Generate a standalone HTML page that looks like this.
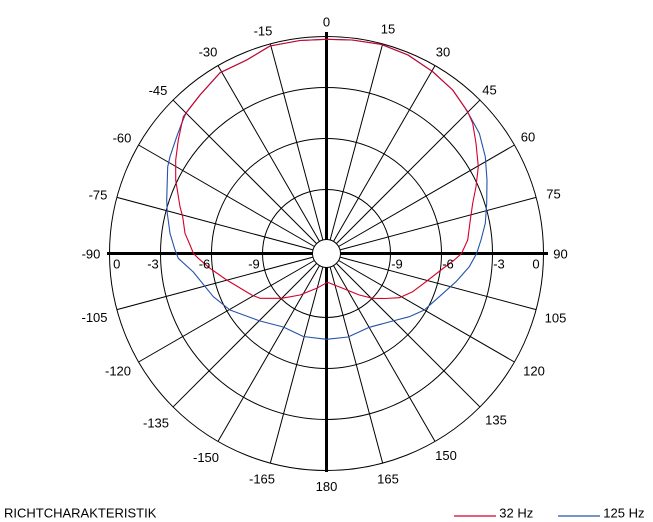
<!DOCTYPE html>
<html><head><meta charset="utf-8"><style>
html,body{margin:0;padding:0;background:#fff;}
svg{display:block;}
text{font-family:"Liberation Sans",sans-serif;font-size:13px;fill:#000;}
</style></head><body>
<svg width="653" height="522" viewBox="0 0 653 522" xmlns="http://www.w3.org/2000/svg">
<g fill="none" stroke="#000" stroke-width="1">
<circle cx="326.5" cy="253.5" r="217"/>
<circle cx="326.5" cy="253.5" r="166"/>
<circle cx="326.5" cy="253.5" r="115"/>
<circle cx="326.5" cy="253.5" r="64"/>
</g>
<g stroke="#000" stroke-width="1" id="spokes">
<line x1="330.12" y1="240.0" x2="382.66" y2="43.90"/>
<line x1="333.5" y1="241.38" x2="435.0" y2="65.57"/>
<line x1="336.4" y1="243.6" x2="479.94" y2="100.06"/>
<line x1="338.62" y1="246.5" x2="514.43" y2="145.0"/>
<line x1="340.0" y1="249.88" x2="536.1" y2="197.34"/>
<line x1="340.0" y1="257.12" x2="536.1" y2="309.66"/>
<line x1="338.62" y1="260.5" x2="514.43" y2="362.0"/>
<line x1="336.4" y1="263.4" x2="479.94" y2="406.94"/>
<line x1="333.5" y1="265.62" x2="435.0" y2="441.43"/>
<line x1="330.12" y1="267.0" x2="382.66" y2="463.1"/>
<line x1="322.88" y1="240.0" x2="270.34" y2="43.90"/>
<line x1="319.5" y1="241.38" x2="218.0" y2="65.57"/>
<line x1="316.6" y1="243.6" x2="173.06" y2="100.06"/>
<line x1="314.38" y1="246.5" x2="138.57" y2="145.0"/>
<line x1="313.0" y1="249.88" x2="116.9" y2="197.34"/>
<line x1="313.0" y1="257.12" x2="116.9" y2="309.66"/>
<line x1="314.38" y1="260.5" x2="138.57" y2="362.0"/>
<line x1="316.6" y1="263.4" x2="173.06" y2="406.94"/>
<line x1="319.5" y1="265.62" x2="218.0" y2="441.43"/>
<line x1="322.88" y1="267.0" x2="270.34" y2="463.1"/>
</g>
<g stroke="#000" stroke-width="3">
<line x1="107" y1="253.5" x2="548" y2="253.5"/>
<line x1="326.5" y1="32" x2="326.5" y2="472"/>
</g>
<path fill="none" stroke="#2453a8" stroke-width="1.1" stroke-linejoin="round" d="M186,113 L181.7,123.3 L176.7,136.7 L170,156.7 L167.7,166.7 L166.7,200 L167.3,213.3 L170,233.3 L175,250 L178.3,258.3 L193.3,272 L213.3,296.7 L230,310 L260,321 L283.3,327 L303.3,336.5 L326.5,339.3 L348,337 L369.3,327.3 L392.7,321 L409.3,316.7 L424.3,310 L439.3,296.7 L456,281.7 L469.3,266.7 L476.7,253.3 L481,240 L485.3,223.3 L486.7,203.3 L487,180 L485.3,156.7 L479.3,133.3 L469.3,115 L465,108 L452.7,90 L432.7,71.7 L408,55 L381,44.3 L352,40 L326.5,39.3 L300,40.5 L270,46 L246.7,60 L220,72.7 L200,95 L188.3,110 Z"/>
<path fill="none" stroke="#d4002a" stroke-width="1.1" stroke-linejoin="round" d="M326.5,39.3 L352,40 L381,44.3 L408,55 L432.7,71.7 L452.7,90 L467.7,111.7 L472.7,123.3 L476,143.3 L478.3,166.7 L476,186.7 L472.7,203.3 L470.3,220 L467.7,240 L461.5,253.5 L454.3,260 L441,270 L426,281.7 L412.7,291.7 L399.3,297.7 L385,298.5 L372.7,298.3 L359.3,295 L342.7,288.3 L327.5,282.3 L316.7,288.3 L300,295 L281.7,298.3 L260,298.3 L251.7,295 L226.7,280 L210,268.3 L198.3,258.3 L193.5,253.5 L190,245 L185,233.3 L182.7,216.7 L180,206.7 L175.7,180 L175.7,160 L178.3,140 L183.3,116.7 L188.3,110 L200,95 L220,72.7 L246.7,60 L270,46 L300,40.5 Z"/>
<circle cx="326.5" cy="253.5" r="14" fill="#fff" stroke="#000" stroke-width="1"/>
<g text-anchor="middle">
<text x="326.5" y="26.6">0</text>
<text x="263" y="35.6">-15</text>
<text x="208" y="56.6">-30</text>
<text x="158" y="95.1">-45</text>
<text x="122" y="142.6">-60</text>
<text x="98" y="199.3">-75</text>
<text x="91" y="258.6">-90</text>
<text x="94.5" y="322.1">-105</text>
<text x="118" y="375.6">-120</text>
<text x="156" y="427.6">-135</text>
<text x="206" y="462.1">-150</text>
<text x="262" y="483.6">-165</text>
<text x="326.5" y="491.1">180</text>
<text x="388" y="33.6">15</text>
<text x="443" y="56.6">30</text>
<text x="489.5" y="94.3">45</text>
<text x="528" y="141.6">60</text>
<text x="553.5" y="198.6">75</text>
<text x="560.5" y="258.6">90</text>
<text x="555.5" y="322.6">105</text>
<text x="534" y="375.6">120</text>
<text x="496" y="424.6">135</text>
<text x="446" y="460.1">150</text>
<text x="388" y="483.6">165</text>
<text x="116.7" y="268.6">0</text>
<text x="153" y="268.6">-3</text>
<text x="204.5" y="268.6">-6</text>
<text x="254" y="268.6">-9</text>
<text x="397" y="268.6">-9</text>
<text x="448" y="268.6">-6</text>
<text x="499" y="268.6">-3</text>
<text x="536" y="268.6">0</text>
</g>
<text x="4" y="517.5">RICHTCHARAKTERISTIK</text>
<line x1="454" y1="516" x2="496" y2="516" stroke="#d4002a" stroke-width="1.2"/>
<text x="499.3" y="517.5">32 Hz</text>
<line x1="558" y1="516" x2="600" y2="516" stroke="#2453a8" stroke-width="1.2"/>
<text x="603.3" y="517.5">125 Hz</text>
</svg>
</body></html>
